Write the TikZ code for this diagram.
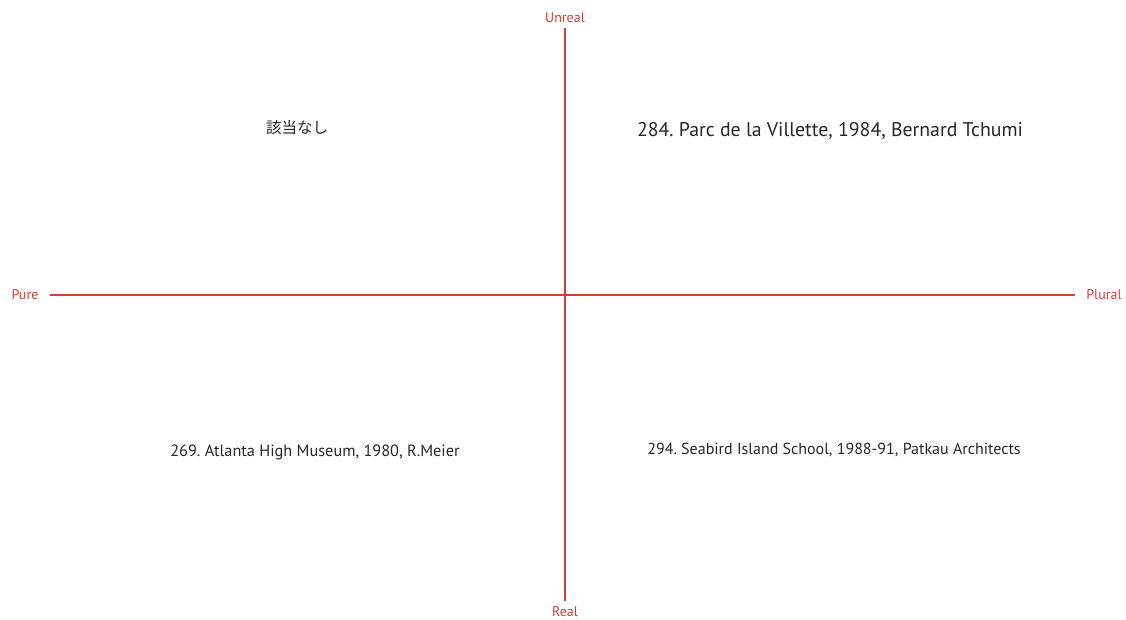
\documentclass[tikz,border=0pt]{standalone}
\usepackage{fontspec}
\setmainfont{PT Sans}
\newfontfamily\jpfont{Noto Sans CJK JP}
\definecolor{axisred}{RGB}{214,62,52}
\frenchspacing
\begin{document}
\begin{tikzpicture}[x=1pt,y=-1pt,
  axis/.style={draw=axisred,line width=2pt},
  axlabel/.style={text=axisred,font=\fontsize{14}{16}\selectfont,inner sep=0pt},
  item/.style={text=black!85,font=\fontsize{15.8}{18}\selectfont,inner sep=0pt}]
\useasboundingbox (0,0) rectangle (1126,619);
\node[axlabel] (unreal) at (565,17.5) {Unreal};
\node[axlabel] (real) at (565,611.5) {Real};
\node[axlabel] (pure) at (25,294.5) {Pure};
\node[axlabel] (plural) at (1104,294.5) {Plural};
\coordinate (top) at (565,28);
\coordinate (bot) at (565,601);
\coordinate (left) at (50,295);
\coordinate (right) at (1075,295);
\draw[axis] (top) -- (bot);
\draw[axis] (left) -- (right);
\node[item,font=\jpfont\fontsize{15.5}{18}\selectfont] (none) at (297,128) {該当なし};
\node[item,font=\fontsize{19.8}{24}\selectfont] (parc) at (830,131) {284. Parc de la Villette, 1984, Bernard Tchumi};
\node[item,font=\fontsize{16.3}{18}\selectfont] (atlanta) at (315,452) {269. Atlanta High Museum, 1980, R.Meier};
\node[item,font=\fontsize{16}{18}\selectfont] (seabird) at (834,450) {294. Seabird Island School, 1988-91, Patkau Architects};
\end{tikzpicture}
\end{document}
